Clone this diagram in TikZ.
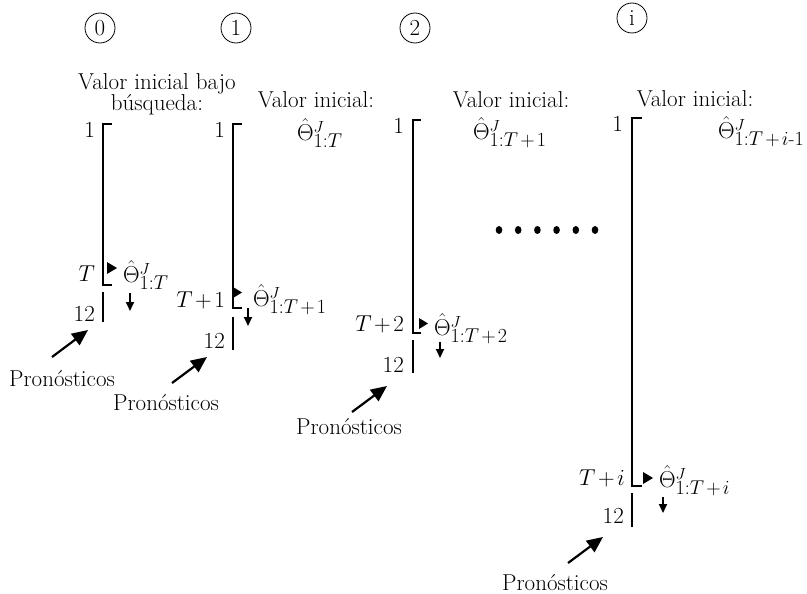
\RequirePackage{fix-cm}
\documentclass[tikz,border=0pt]{standalone}
\usepackage{fontspec}
\usetikzlibrary{arrows.meta}
\newcommand{\pl}{\mkern2mu{+}\mkern2mu}
\newcommand{\thlab}[1]{$\hat{\Theta}^{J}_{\mbox{\fontsize{20}{24}\selectfont$#1$}}$}

\begin{document}
\begin{tikzpicture}[x=1pt, y=-1pt, line width=2.3pt,
  every node/.style={font=\fontsize{23}{25}\selectfont, inner sep=0pt},
  num/.style={draw, circle, line width=0.8pt, minimum size=30pt, inner sep=0pt},
  fc/.style={-{Triangle[length=16pt,width=14pt]}, line width=2.2pt},
  dn/.style={-{Triangle[length=9pt,width=8pt]}, line width=1.8pt}]
  \useasboundingbox (0,0) rectangle (807,594);

  \node[num] (c0) at (100,28) {0};
  \node[num] (c1) at (236,28) {1};
  \node[num] (c2) at (415,28) {2};
  \node[num] (ci) at (632,18) {i};

  % column 0
  \node[align=center] (vi0) at (157,94) {Valor inicial bajo\\[-4pt]búsqueda:};
  \coordinate (t0) at (103,124);
  \coordinate (b0) at (103,285);
  \draw ([xshift=9pt]t0) -- (t0) -- (b0) -- ([xshift=9pt]b0);
  \node[anchor=east] (one0) at (96,130) {1};
  \node[anchor=east] (lt0) at (96,274) {$T$};
  \fill (107,262) -- ++(10,6) -- ++(-10,6) -- cycle;
  \node[anchor=west] (th0) at (122,275) {\thlab{1{:}T}};
  \coordinate (d0) at (130,293);
  \draw[dn] (d0) -- ++(0,18);
  \coordinate (s0) at (103,292);
  \coordinate (e0) at (103,322);
  \draw (s0) -- (e0);
  \node[anchor=east] (tw0) at (96,314) {12};
  \node (pr0) at (62,379) {Pronósticos};
  \coordinate (a0) at (52,357);
  \coordinate (h0) at (88,330);
  \draw[fc] (a0) -- (h0);

  % column 1
  \node (vi1) at (316,100) {Valor inicial:};
  \node[anchor=west] (vt1) at (296,133) {\thlab{1{:}T}};
  \coordinate (t1) at (233,124);
  \coordinate (b1) at (233,308);
  \draw ([xshift=9pt]t1) -- (t1) -- (b1) -- ([xshift=9pt]b1);
  \node[anchor=east] (one1) at (226,130) {1};
  \node[anchor=east] (lt1) at (226,300) {$T\pl1$};
  \fill (233,287) -- ++(9,5.5) -- ++(-9,5.5) -- cycle;
  \node[anchor=west] (th1) at (252,300) {\thlab{1{:}T\pl1}};
  \coordinate (d1) at (248,308);
  \draw[dn] (d1) -- ++(0,18);
  \coordinate (s1) at (233,317);
  \coordinate (e1) at (233,350);
  \draw (s1) -- (e1);
  \node[anchor=east] (tw1) at (226,341) {12};
  \node (pr1) at (166,403) {Pronósticos};
  \coordinate (a1) at (172,383);
  \coordinate (h1) at (207,357);
  \draw[fc] (a1) -- (h1);

  % column 2
  \node (vi2) at (511,100) {Valor inicial:};
  \node[anchor=west] (vt2) at (472,133) {\thlab{1{:}T\pl1}};
  \coordinate (t2) at (413,120);
  \coordinate (b2) at (413,333);
  \draw ([xshift=8pt]t2) -- (t2) -- (b2) -- ([xshift=8pt]b2);
  \node[anchor=east] (one2) at (405,126) {1};
  \node[anchor=east] (lt2) at (405,324) {$T\pl2$};
  \fill (419,318) -- ++(9,5.5) -- ++(-9,5.5) -- cycle;
  \node[anchor=west] (th2) at (433,329) {\thlab{1{:}T\pl2}};
  \coordinate (d2) at (440,342);
  \draw[dn] (d2) -- ++(0,16);
  \coordinate (s2) at (413,340);
  \coordinate (e2) at (413,373);
  \draw (s2) -- (e2);
  \node[anchor=east] (tw2) at (405,365) {12};
  \node (pr2) at (349,427) {Pronósticos};
  \coordinate (a2) at (352,412);
  \coordinate (h2) at (387,386);
  \draw[fc] (a2) -- (h2);

  % dots
  \foreach \k in {0,...,5}
    \fill (499+19.2*\k,230) ellipse [x radius=3.3pt, y radius=4pt];

  % column i
  \node (vii) at (695,99) {Valor inicial:};
  \node[anchor=west] (vti) at (717,132) {\thlab{1{:}T\pl i\mbox{-}1}};
  \coordinate (ti) at (632,118);
  \coordinate (bi) at (632,486);
  \draw ([xshift=10pt]ti) -- (ti) -- (bi) -- ([xshift=10pt]bi);
  \node[anchor=east] (onei) at (624,124) {1};
  \node[anchor=east] (lti) at (626,478) {$T\pl i$};
  \fill (643,472) -- ++(10,6) -- ++(-10,6) -- cycle;
  \node[anchor=west] (thi) at (658,481) {\thlab{1{:}T\pl i}};
  \coordinate (di) at (663,497);
  \draw[dn] (di) -- ++(0,16);
  \coordinate (si) at (632,493);
  \coordinate (ei) at (632,527);
  \draw (si) -- (ei);
  \node[anchor=east] (twi) at (625,516) {12};
  \node (pri) at (555,583) {Pronósticos};
  \coordinate (ai) at (568,563);
  \coordinate (hi) at (603,537);
  \draw[fc] (ai) -- (hi);
\end{tikzpicture}
\end{document}
